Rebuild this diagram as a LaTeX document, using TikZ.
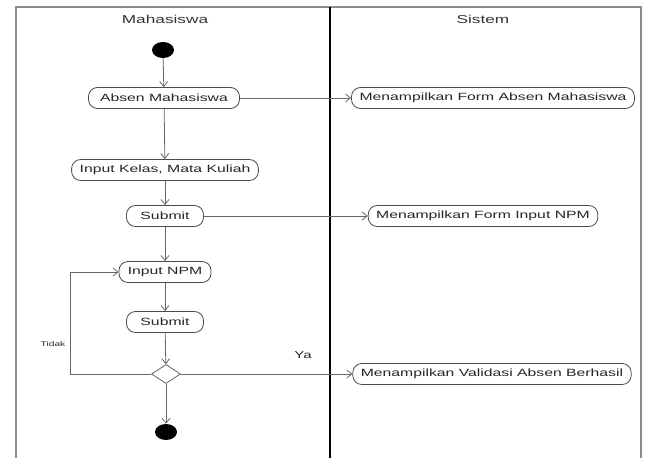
\documentclass[tikz,border=0pt]{standalone}
\usepackage{fontspec}
\setmainfont{Liberation Sans}[FakeStretch=1.5]
\usetikzlibrary{arrows.meta,shapes.geometric,calc}
\tikzset{
  act/.style={draw=black!70, line width=0.8pt, rounded corners=9pt,
    minimum height=21pt, inner xsep=8pt, inner ysep=0pt, text=black!85,
    font=\fontsize{10.5}{12}\selectfont, fill=white},
  flow/.style={draw=black!60, line width=0.8pt,
    -{Straight Barb[length=5pt,width=8pt]}},
  plain/.style={draw=black!60, line width=0.8pt},
  dot/.style={ellipse, fill=black, inner sep=0pt, minimum width=22pt, minimum height=16pt},
  decision/.style={diamond, draw=black!60, line width=0.8pt, fill=white, inner sep=0pt,
    minimum width=29pt, minimum height=19pt},
  lane/.style={font=\fontsize{11.5}{13}\selectfont, text=black!80},
  guard/.style={text=black!85},
}
\begin{document}
\begin{tikzpicture}[x=1pt, y=-1pt]
  \useasboundingbox (0,0) rectangle (649,458);
  % swimlane frame and divider
  \draw[black!45, line width=1.5pt] (16,470) -- (16,7) -- (641,7) -- (641,470);
  \draw[black, line width=1.2pt] (330,7) -- (330,470);
  \node[lane] (laneM) at (165,19) {Mahasiswa};
  \node[lane] (laneS) at (483,19) {Sistem};

  % Mahasiswa lane
  \node[dot] (start) at (163,50) {};
  \node[act, minimum width=151pt] (absen) at (164,98) {Absen Mahasiswa};
  \node[act] (kelas) at (165,170) {Input Kelas, Mata Kuliah};
  \node[act, minimum width=77pt] (submitA) at (165,216) {Submit};
  \node[act, minimum width=92pt] (npm) at (165,272) {Input NPM};
  \node[act, minimum width=77pt] (submitB) at (165,322) {Submit};
  \node[decision] (dec) at (166,374) {};
  \node[dot] (stop) at (166,432) {};

  % Sistem lane
  \node[act] (formAbsen) at (493,98) {Menampilkan Form Absen Mahasiswa};
  \node[act] (formNpm) at (483,216) {Menampilkan Form Input NPM};
  \node[act] (valid) at (492,374) {Menampilkan Validasi Absen Berhasil};

  % control flow
  \draw[flow] (start) -- (absen);
  \draw[flow] (absen) -- (formAbsen);
  \draw[flow] (absen) -- (kelas);
  \draw[flow] (kelas) -- (submitA);
  \draw[flow] (submitA) -- (formNpm);
  \draw[flow] (submitA) -- (npm);
  \draw[flow] (npm) -- (submitB);
  \draw[flow] (submitB) -- (dec);
  \draw[flow] (dec) -- (valid);
  \draw[flow] (dec) -- (stop);
  \coordinate (loopx) at (70,0);
  \draw[flow] (dec.west) -- (dec.west -| loopx) |- (npm.west);

  % guards
  \node[guard, font=\fontsize{6.8}{8}\selectfont] (tidak) at (53,344) {Tidak};
  \node[guard, font=\fontsize{10}{12}\selectfont] (ya) at (303,355) {Ya};
\end{tikzpicture}
\end{document}
